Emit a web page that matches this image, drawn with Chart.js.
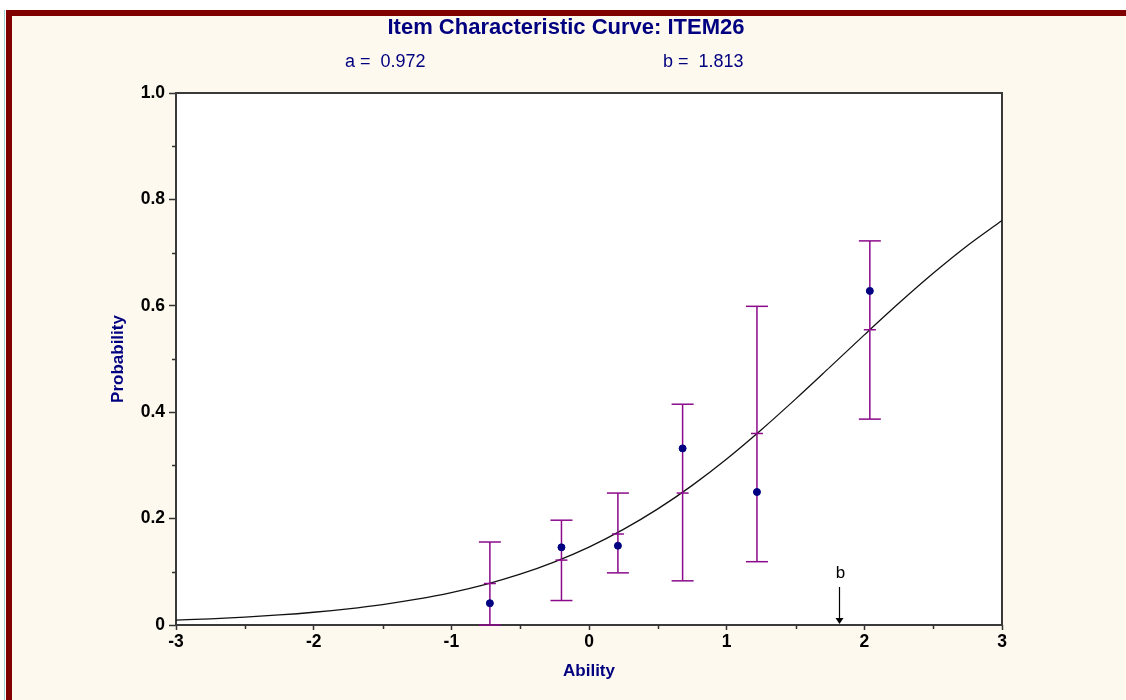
<!DOCTYPE html>
<html>
<head>
<meta charset="utf-8">
<title>Item Characteristic Curve: ITEM26</title>
<script src="https://cdn.jsdelivr.net/npm/chart.js@4/dist/chart.umd.min.js"></script>
<style>
  html, body { margin: 0; padding: 0; background: #ffffff; }
  #wrap { position: relative; width: 1126px; height: 700px; overflow: hidden; background: #ffffff; }
  #edge { position: absolute; left: 4px; top: 10px; width: 1px; height: 690px; background: #9fd3d3; }
  #frame { position: absolute; left: 6px; top: 10px; right: 0; bottom: 0;
           border-left: 6px solid #800000; border-top: 6px solid #800000; background: #fef9ee; }
  #holder { position: absolute; left: 0; top: 0; width: 1126px; height: 700px; }
</style>
</head>
<body>
<div id="wrap">
  <div id="edge"></div>
  <div id="frame"></div>
  <div id="holder"><canvas id="icc"></canvas></div>
</div>
<script>
// Item parameters
const itemName = 'ITEM26';
const slopeA = 0.972;
const locationB = 1.813;

// Fitted item characteristic curve (ability, probability)
const curveTheta = [-3, -2.75, -2.5, -2.25, -2, -1.75, -1.5, -1.25, -1, -0.75, -0.5, -0.25,
                    0, 0.25, 0.5, 0.75, 1, 1.25, 1.5, 1.75, 2, 2.25, 2.5, 2.75, 3];
const curveProb = [0.0092, 0.0117, 0.0149, 0.0189, 0.0240, 0.0304, 0.0384, 0.0485, 0.0610,
                   0.0765, 0.0955, 0.1187, 0.1465, 0.1797, 0.2182, 0.2625, 0.3121, 0.3666,
                   0.4246, 0.4847, 0.5453, 0.6046, 0.6610, 0.7133, 0.7603];

// Ability groups: observed proportion, model expectation and interval
const groupTheta = [-0.72, -0.20, 0.21, 0.68, 1.22, 2.04];
const observed   = [0.041, 0.146, 0.149, 0.332, 0.250, 0.628];
const expected   = [0.078, 0.122, 0.171, 0.248, 0.360, 0.555];
const lowerCI    = [0.000, 0.046, 0.098, 0.083, 0.119, 0.387];
const upperCI    = [0.156, 0.197, 0.248, 0.415, 0.599, 0.722];

// Axis ticks
const xTickValues = [-3, -2, -1, 0, 1, 2, 3];
const xTickLabels = ['-3', '-2', '-1', '0', '1', '2', '3'];
const xMinorTicks = [-2.5, -1.5, -0.5, 0.5, 1.5, 2.5];
const yTickValues = [0, 0.2, 0.4, 0.6, 0.8, 1.0];
const yTickLabels = ['0', '0.2', '0.4', '0.6', '0.8', '1.0'];
const yMinorTicks = [0.1, 0.3, 0.5, 0.7, 0.9];

const FONT = '"Liberation Sans", Arial, Helvetica, sans-serif';
const NAVY = '#000080';
const PURPLE = '#8b0a8b';

// Plot panel, frame, minor ticks, the b marker and header texts
const iccDecor = {
  id: 'iccDecor',
  beforeDraw(chart) {
    const { ctx, chartArea: a } = chart;
    ctx.save();
    ctx.fillStyle = '#ffffff';
    ctx.fillRect(a.left, a.top, a.right - a.left, a.bottom - a.top);
    ctx.restore();
  },
  beforeDatasetsDraw(chart) {
    const { ctx, chartArea: a, scales } = chart;
    ctx.save();
    ctx.strokeStyle = '#3a3a3a';
    ctx.lineWidth = 2;
    ctx.strokeRect(a.left, a.top, a.right - a.left, a.bottom - a.top);

    // minor ticks
    ctx.lineWidth = 1.5;
    ctx.strokeStyle = '#333333';
    ctx.beginPath();
    xMinorTicks.forEach(v => {
      const px = Math.round(scales.x.getPixelForValue(v)) + 0.5;
      ctx.moveTo(px, a.bottom);
      ctx.lineTo(px, a.bottom + 4);
    });
    yMinorTicks.forEach(v => {
      const py = Math.round(scales.y.getPixelForValue(v)) + 0.5;
      ctx.moveTo(a.left, py);
      ctx.lineTo(a.left - 4, py);
    });
    ctx.stroke();
    ctx.restore();
  },
  afterDraw(chart) {
    const { ctx, chartArea: a, scales } = chart;
    ctx.save();

    // arrow marking the location parameter on the ability axis
    const bx = Math.round(scales.x.getPixelForValue(locationB)) + 0.5;
    ctx.strokeStyle = '#000000';
    ctx.fillStyle = '#000000';
    ctx.lineWidth = 1.2;
    ctx.beginPath();
    ctx.moveTo(bx, a.bottom - 38);
    ctx.lineTo(bx, a.bottom - 5);
    ctx.stroke();
    ctx.beginPath();
    ctx.moveTo(bx - 4, a.bottom - 7);
    ctx.lineTo(bx + 4, a.bottom - 7);
    ctx.lineTo(bx, a.bottom - 1);
    ctx.closePath();
    ctx.fill();
    ctx.font = '17px ' + FONT;
    ctx.textAlign = 'center';
    ctx.textBaseline = 'middle';
    ctx.fillText('b', bx + 1, a.bottom - 52);

    // header
    ctx.fillStyle = NAVY;
    ctx.font = 'bold 22px ' + FONT;
    ctx.textAlign = 'center';
    ctx.fillText('Item Characteristic Curve: ' + itemName, 566, 28);
    ctx.font = '18px ' + FONT;
    ctx.textAlign = 'left';
    ctx.fillText('a =  ' + slopeA.toFixed(3), 345, 62);
    ctx.fillText('b =  ' + locationB.toFixed(3), 663, 62);
    ctx.restore();
  }
};

const tickFont = { family: FONT, size: 17.5, weight: 'bold' };
const titleFont = { family: FONT, size: 17, weight: 'bold' };

new Chart(document.getElementById('icc'), {
  type: 'scatter',
  data: {
    datasets: [
      {
        label: 'ICC',
        data: curveTheta.map((t, i) => ({ x: t, y: curveProb[i] })),
        showLine: true,
        borderColor: '#111111',
        borderWidth: 1.3,
        pointRadius: 0,
        cubicInterpolationMode: 'monotone',
        order: 4
      },
      {
        label: 'Interval',
        data: groupTheta.flatMap((t, i) => [
          { x: t, y: lowerCI[i] }, { x: t, y: upperCI[i] }, { x: t, y: null }
        ]),
        showLine: true,
        spanGaps: false,
        borderColor: PURPLE,
        borderWidth: 1.5,
        pointRadius: 0,
        clip: false,
        order: 3
      },
      {
        label: 'Interval ends',
        data: groupTheta.flatMap((t, i) => [
          { x: t, y: lowerCI[i] }, { x: t, y: upperCI[i] }
        ]),
        pointStyle: 'line',
        pointRadius: 11,
        pointBorderWidth: 1.5,
        pointBorderColor: PURPLE,
        clip: false,
        order: 2
      },
      {
        label: 'Expected',
        data: groupTheta.map((t, i) => ({ x: t, y: expected[i] })),
        pointStyle: 'line',
        pointRadius: 6,
        pointBorderWidth: 1.5,
        pointBorderColor: PURPLE,
        order: 1
      },
      {
        label: 'Observed',
        data: groupTheta.map((t, i) => ({ x: t, y: observed[i] })),
        pointStyle: 'circle',
        pointRadius: 3.5,
        pointBackgroundColor: NAVY,
        pointBorderColor: NAVY,
        pointBorderWidth: 1,
        order: 0
      }
    ]
  },
  options: {
    responsive: true,
    maintainAspectRatio: false,
    animation: false,
    events: [],
    layout: { padding: { left: 90, top: 93, right: 124, bottom: 0 } },
    plugins: {
      legend: { display: false },
      title: { display: false },
      tooltip: { enabled: false }
    },
    scales: {
      x: {
        type: 'linear',
        min: -3,
        max: 3,
        afterBuildTicks: s => { s.ticks = xTickValues.map(v => ({ value: v })); },
        afterFit: s => { s.height = 75; },
        border: { display: false },
        grid: { display: true, drawOnChartArea: false, drawTicks: true,
                tickLength: 5, tickColor: '#333333', tickWidth: 1.5 },
        ticks: { callback: (v, i) => xTickLabels[i], color: '#000000', font: tickFont,
                 padding: 2, maxRotation: 0, autoSkip: false },
        title: { display: true, text: 'Ability', color: NAVY, font: titleFont,
                 padding: { top: 0, bottom: 18 } }
      },
      y: {
        type: 'linear',
        min: 0,
        max: 1,
        afterBuildTicks: s => { s.ticks = yTickValues.map(v => ({ value: v })); },
        afterFit: s => { s.width = 86; },
        border: { display: false },
        grid: { display: true, drawOnChartArea: false, drawTicks: true,
                tickLength: 7, tickColor: '#333333', tickWidth: 1.5 },
        ticks: { callback: (v, i) => yTickLabels[i], color: '#000000', font: tickFont,
                 padding: 4, autoSkip: false },
        title: { display: true, text: 'Probability', color: NAVY, font: titleFont,
                 padding: { top: 18, bottom: 0 } }
      }
    }
  },
  plugins: [iccDecor]
});
</script>
</body>
</html>
